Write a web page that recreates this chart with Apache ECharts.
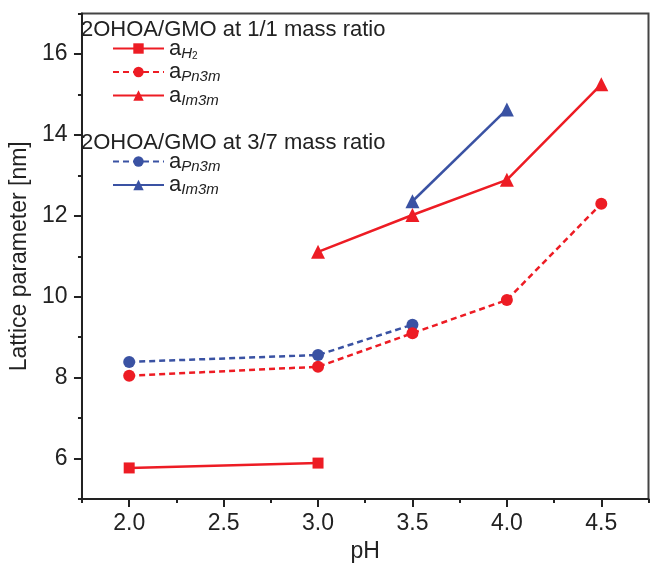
<!DOCTYPE html>
<html>
<head>
<meta charset="UTF-8">
<title>Lattice parameter vs pH</title>
<script src="https://cdn.jsdelivr.net/npm/echarts@6/dist/echarts.min.js"></script>
<style>
  html, body { margin: 0; padding: 0; background: #fff; }
  #main { width: 650px; height: 568px; }
</style>
</head>
<body>
<div id="main"></div>
<script>
// pH values and lattice parameters (nm)
var phH2_11 = [2.0, 3.0];
var aH2_11 = [5.77, 5.89];

var phPn3m_11 = [2.0, 3.0, 3.5, 4.0, 4.5];
var aPn3m_11 = [8.05, 8.27, 9.10, 9.92, 12.30];

var phIm3m_11 = [3.0, 3.5, 4.0, 4.5];
var aIm3m_11 = [11.11, 12.02, 12.89, 15.25];

var phPn3m_37 = [2.0, 3.0, 3.5];
var aPn3m_37 = [8.39, 8.56, 9.31];

var phIm3m_37 = [3.5, 4.0];
var aIm3m_37 = [12.36, 14.63];

var xTicks = [2.0, 2.5, 3.0, 3.5, 4.0, 4.5];
var yTicks = [6, 8, 10, 12, 14, 16];

var RED = '#ed1c24', BLUE = '#3a52a3', INK = '#222';
var FONT = 'Liberation Sans, Arial, sans-serif';

function pairs(xs, ys) {
  return xs.map(function (x, i) { return [x, ys[i]]; });
}

var rich = {
  a: { fontSize: 22, fontFamily: FONT, color: INK, lineHeight: 25, verticalAlign: 'middle' },
  s: { fontSize: 15, fontFamily: FONT, color: INK, fontStyle: 'italic', lineHeight: 14, verticalAlign: 'bottom' },
  ss: { fontSize: 10, fontFamily: FONT, color: INK, lineHeight: 6, verticalAlign: 'bottom' }
};

var labels = {
  'H2_11': '{a|a}{s|H}{ss|2}',
  'Pn3m_11': '{a|a}{s|Pn3m}',
  'Im3m_11': '{a|a}{s|Im3m}',
  'Pn3m_37': '{a|a}{s|Pn3m}',
  'Im3m_37': '{a|a}{s|Im3m}'
};

function mkSeries(name, xs, ys, color, symbol, size, dashed) {
  return {
    name: name,
    type: 'line',
    xAxisIndex: 0,
    yAxisIndex: 0,
    data: pairs(xs, ys),
    symbol: symbol,
    symbolSize: size,
    itemStyle: { color: color },
    lineStyle: { color: color, width: 2.5, type: dashed ? [6, 4] : 'solid' },
    animation: false
  };
}

var legendCommon = {
  orient: 'vertical',
  itemWidth: 51,
  itemHeight: 13,
  itemGap: 0,
  padding: 0,
  selectedMode: false,
  formatter: function (n) { return labels[n]; },
  textStyle: { rich: rich, padding: [0, 0, 0, 0] }
};

var chart = echarts.init(document.getElementById('main'));
chart.setOption({
  backgroundColor: '#fff',
  textStyle: { fontFamily: FONT },
  title: [
    { text: '2OHOA/GMO at 1/1 mass ratio', left: 81, top: 19, padding: 0,
      textStyle: { fontSize: 22, fontWeight: 'normal', color: INK, fontFamily: FONT } },
    { text: '2OHOA/GMO at 3/7 mass ratio', left: 81, top: 132, padding: 0,
      textStyle: { fontSize: 22, fontWeight: 'normal', color: INK, fontFamily: FONT } }
  ],
  legend: [
    Object.assign({}, legendCommon, { left: 112, top: 37.5, data: ['H2_11', 'Pn3m_11', 'Im3m_11'] }),
    Object.assign({}, legendCommon, { left: 112, top: 150.5, data: ['Pn3m_37', 'Im3m_37'] })
  ],
  grid: {
    left: 76.5, right: 1.5, top: 13.5, bottom: 58.5,
    show: true, borderColor: '#444', borderWidth: 2, backgroundColor: 'transparent'
  },
  xAxis: [
    {
      type: 'value', min: 1.75, max: 4.75, interval: 0.25, position: 'bottom',
      axisLine: { show: true, lineStyle: { color: INK, width: 2 } },
      axisTick: { show: true, length: 4, lineStyle: { color: INK, width: 2 } },
      axisLabel: { show: false },
      splitLine: { show: false }
    },
    {
      type: 'value', min: 1.75, max: 4.75, position: 'bottom',
      name: 'pH', nameLocation: 'middle', nameGap: 38,
      nameTextStyle: { fontSize: 23, color: INK, fontFamily: FONT },
      axisLine: { show: false },
      axisTick: { show: true, length: 8, customValues: xTicks, lineStyle: { color: INK, width: 2 } },
      axisLabel: { show: true, customValues: xTicks, margin: 13, fontSize: 23, color: INK, fontFamily: FONT,
        formatter: function (v) { return v.toFixed(1); } },
      splitLine: { show: false }
    }
  ],
  yAxis: [
    {
      type: 'value', min: 5, max: 17, interval: 1, position: 'left',
      axisLine: { show: true, lineStyle: { color: INK, width: 2 } },
      axisTick: { show: true, length: 4, lineStyle: { color: INK, width: 2 } },
      axisLabel: { show: false },
      splitLine: { show: false }
    },
    {
      type: 'value', min: 5, max: 17, position: 'left',
      name: 'Lattice parameter [nm]', nameLocation: 'middle', nameGap: 43,
      nameTextStyle: { fontSize: 23, color: INK, fontFamily: FONT },
      axisLine: { show: false },
      axisTick: { show: true, length: 8, customValues: yTicks, lineStyle: { color: INK, width: 2 } },
      axisLabel: { show: true, customValues: yTicks, margin: 14.5, fontSize: 23, color: INK, fontFamily: FONT },
      splitLine: { show: false }
    }
  ],
  series: [
    mkSeries('H2_11', phH2_11, aH2_11, RED, 'rect', 11, false),
    mkSeries('Pn3m_37', phPn3m_37, aPn3m_37, BLUE, 'circle', 12, true),
    mkSeries('Pn3m_11', phPn3m_11, aPn3m_11, RED, 'circle', 12, true),
    mkSeries('Im3m_37', phIm3m_37, aIm3m_37, BLUE, 'triangle', 14, false),
    mkSeries('Im3m_11', phIm3m_11, aIm3m_11, RED, 'triangle', 14, false)
  ]
});
</script>
</body>
</html>
